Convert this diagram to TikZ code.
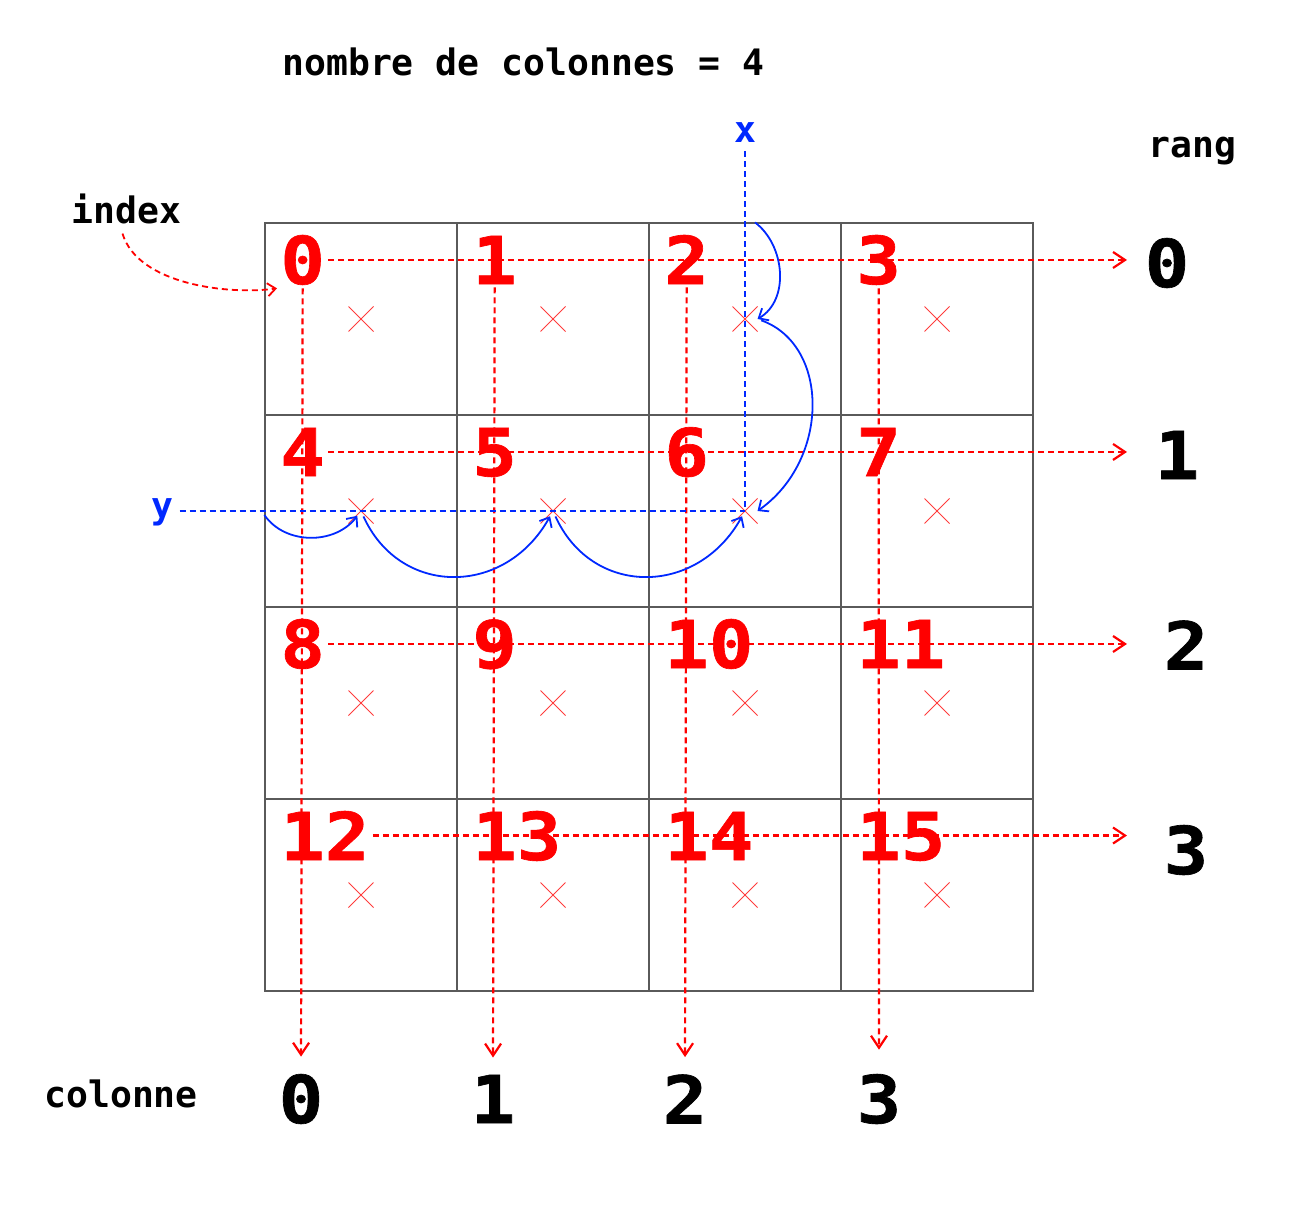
\documentclass[tikz,border=0pt]{standalone}
\usepackage{fontspec}
\setmonofont{DejaVu Sans Mono}
\newfontfamily\bignumfont[FakeStretch=1.12, FakeBold=1]{DejaVu Sans Mono}
\usetikzlibrary{arrows.meta}
\usetikzlibrary{shapes.misc}
\definecolor{gridgray}{RGB}{90,90,90}
\definecolor{ptblue}{RGB}{0,40,255}
\definecolor{crossred}{RGB}{255,60,60}

\begin{document}
\begin{tikzpicture}[x=0.5pt, y=-0.5pt,
    monotext/.style={font=\ttfamily\bfseries\fontsize{18.2}{20}\selectfont, inner sep=1pt},
    bignum/.style={font=\bignumfont\bfseries\fontsize{33}{36}\selectfont, inner sep=1.5pt},
    cellbox/.style={draw=gridgray, line width=0.6pt, minimum size=96pt, inner sep=0pt},
    crossmark/.style={cross out, draw=crossred, line width=0.5pt, minimum size=12pt, inner sep=0pt},
    redline/.style={red, line width=1.1pt, dash pattern=on 3pt off 2pt,
      -{Straight Barb[length=6pt,width=8pt]}},
    blueline/.style={ptblue, line width=1pt, dash pattern=on 3pt off 2pt},
    bluearc/.style={ptblue, line width=0.9pt, -{Straight Barb[length=4pt,width=7pt]}},
    indexarc/.style={red, line width=0.9pt, dash pattern=on 3pt off 2pt,
      -{Straight Barb[length=4pt,width=6.5pt]}}]

  \useasboundingbox (0,0) rectangle (1300,1210);

  \foreach \i in {0,...,15} {
    \pgfmathtruncatemacro\c{mod(\i,4)}
    \pgfmathtruncatemacro\r{int(\i/4)}
    \node[cellbox] (cell\i) at (361+192*\c, 319+192*\r) {};
    \node[crossmark] (x\i) at (cell\i.center) {};
    \node[bignum, text=red, anchor=base west] (n\i) at (277+192*\c, 284+192*\r) {\i};
  }

  \node[monotext, anchor=base west] (titre) at (280,75) {nombre de colonnes = 4};
  \node[monotext, anchor=base west] (rang) at (1146,157) {rang};
  \node[monotext, anchor=base west] (idx) at (69,223) {index};
  \node[monotext, anchor=base west] (colonne) at (42,1107) {colonne};
  \node[monotext, text=ptblue] (xlab) at (745,133) {x};
  \node[monotext, text=ptblue, anchor=base west] (ylab) at (149,518) {y};

  \foreach \r/\px/\py in {0/1167/263, 1/1177/455, 2/1186/645, 3/1186/850}
    \node[bignum] (r\r) at (\px,\py) {\r};
  \foreach \c/\px in {0/301, 1/493, 2/685, 3/879}
    \node[bignum] (col\c) at (\px,1099) {\c};

  \coordinate (rowend) at (1127,0);
  \foreach \r in {0,...,3} {
    \pgfmathtruncatemacro\k{4*\r}
    \draw[redline] (n\k.east) -- (n\k.east -| rowend);
  }
  \foreach \c/\s in {0/7pt, 1/7pt, 2/7pt, 3/10.5pt}
    \draw[redline, shorten >=\s] (n\c.south) -- (col\c.north);

  \draw[indexarc, shorten <=4pt] ([xshift=-3pt]idx.south) .. controls (138,285) and (230,295) .. (n0.south west);

  \draw[blueline, shorten <=3pt] (xlab.south) -- (x6.center);
  \draw[blueline, shorten <=2pt] (ylab.east |- x6.center) -- (x6.center);

  \draw[bluearc] ([xshift=5pt]cell2.north) .. controls (785,245) and (790,300) .. (x2.east);
  \draw[bluearc, shorten <=2pt] (x2.east) .. controls (830,345) and (830,460) .. (x6.east);
  \draw[bluearc, shorten >=3pt] ([yshift=-2pt]cell4.west) .. controls (285,545) and (335,545) .. (x4.center);
  \draw[bluearc, shorten <=3pt, shorten >=3pt] (x4.center) .. controls (400,597) and (505,597) .. (x5.center);
  \draw[bluearc, shorten <=3pt, shorten >=3pt] (x5.center) .. controls (592,597) and (697,597) .. (x6.center);
\end{tikzpicture}
\end{document}
